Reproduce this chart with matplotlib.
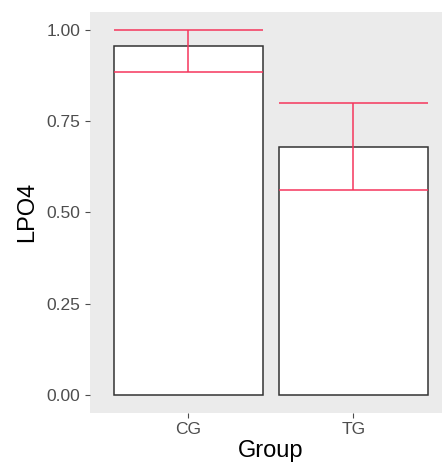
import matplotlib
matplotlib.use("Agg")
import matplotlib.pyplot as plt
import numpy as np

plt.rcParams['font.family'] = ['Liberation Sans', 'DejaVu Sans']

groups = ["CG", "TG"]
means = [0.956, 0.679]
err_low = [0.885, 0.562]
err_high = [1.00, 0.80]

fig = plt.figure(figsize=(4.42, 4.66), dpi=100)
# panel runs off the right edge like in the original
ax = fig.add_axes([0.2025, 0.1137, 0.821, 0.8616])
ax.set_facecolor('#ebebeb')

x = np.arange(len(groups))
ax.bar(x, means, width=0.9, color='white', edgecolor='#333333', linewidth=1.1, zorder=2)

red = '#f5365c'
for xi, lo, hi in zip(x, err_low, err_high):
    ax.hlines([lo, hi], xi - 0.45, xi + 0.45, color=red, linewidth=1.1, zorder=3)
    ax.vlines(xi, lo, hi, color=red, linewidth=1.1, zorder=3)

ax.set_xlim(-0.6, 1.6)
ax.set_ylim(-0.05, 1.05)
ax.set_xticks(x)
ax.set_xticklabels(groups)
ax.set_yticks([0, 0.25, 0.5, 0.75, 1.0])
ax.set_yticklabels(["0.00", "0.25", "0.50", "0.75", "1.00"])
ax.tick_params(colors='#4d4d4d', labelsize=12.5, length=3.5, width=0.8, pad=3)
for s in ax.spines.values():
    s.set_visible(False)

ax.set_xlabel("Group", fontsize=17, labelpad=2)
ax.set_ylabel("LPO4", fontsize=17, labelpad=6)

plt.savefig("out.png", dpi=100)
